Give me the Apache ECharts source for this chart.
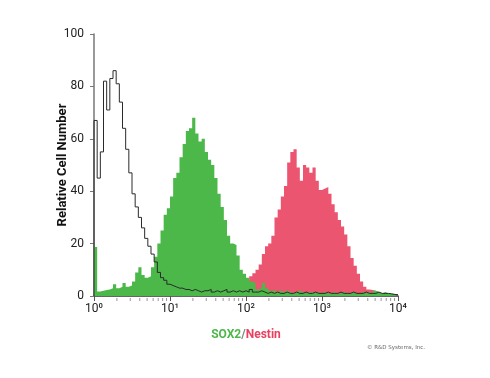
<!DOCTYPE html>
<html><head><meta charset="utf-8">
<script src="https://cdn.jsdelivr.net/npm/echarts@6/dist/echarts.min.js"></script>
<style>html,body{margin:0;padding:0;background:#fff}#c{width:490px;height:378px}</style>
</head><body><div id="c"></div>
<script>
// histogram: 24 channels per decade, from 10^0 to 10^4
const binsPerDecade = 24;
const xTickLabels = ['10\u2070','10\u00b9','10\u00b2','10\u00b3','10\u2074'];
const yTicks = [0,20,40,60,80,100];

const control = [67,45,55,82,71,83,86,81,74,64,56,47,39,34,30,26,22,19,16,13,9,7,6,4.5,4,3.5,3,3,2.5,2.5,2,2.5,2,1.5,2,2,2.5,1.5,2,1.5,2,2.5,1.5,2,1.5,2,1.5,2,1.5,2.5,1.5,1.5,2,1.5,1,1.5,1,1.5,1,1,1.5,1,1,1.5,1,1,1.5,1,1,1.5,1,1,1,1.5,1,1,1,1.5,1,1,1,1.5,1,1,1,1.5,1,1,1,1.5,1,1,1,0.8,0.6,0.5];

const sox2 = [18.7,1.7,2,2.3,2.5,3,4.5,3,3.5,5,3.5,4,5.5,9,11,8,7,7.5,11,15,20,25,31,33.5,38,45,47,53,58,63,64,68,62,59,60,55,52,50,45,39,34,29,23,20,19.5,15.5,10,8.5,7,5.5,5,2.5,3,5,3,2,2,1.5,2,1.5,2,1.5,1,1.5,2,1.5,1,1.5,1.5,1,1.5,1,1.5,1,1,1.5,1,1,1.5,1,1,1.5,1,1,1.5,1,1.5,1,2,1.5,1,1.5,1,1,0.8,0.5];

const nestin = [0,0,0,0,0,0,0,0,0,0,0,0,0,0,0,0,0,0,0,0,0,0,0,0,0,0,0,0,0,0,0,0,0,0,0,0,0,0,0,0,0,0,0,0,3,4,4.5,5,6,7.5,8.7,10,12,16,19,20,23,30,33,38,42,51,55,56,49,44,50,49,47,49,44,40.5,41,41.6,39,35,32,29,26.5,23.5,19,14.5,11.5,8.5,5.5,3.5,2.5,2.3,2,1.5,1,0.5,0,0,0,0];

function stepData(vals, lead) {
  const d = vals.map((v, i) => [Math.pow(10, i / binsPerDecade), v]);
  d.push([Math.pow(10, vals.length / binsPerDecade), vals[vals.length - 1]]);
  if (lead) d.unshift([1, 0]);
  return d;
}
const minorTicks = [];
for (let k = 0; k < 4; k++) for (let m = 2; m <= 9; m++) minorTicks.push([m * Math.pow(10, k), 0]);

const FONT = "Roboto,'Liberation Sans',sans-serif";
const chart = echarts.init(document.getElementById('c'));
chart.setOption({
  animation: false,
  grid: {left: 94, right: 92, top: 34, bottom: 82},
  xAxis: {
    type: 'log', logBase: 10, min: 1, max: 10000,
    axisLine: {lineStyle: {color: '#333', width: 1.5}},
    axisTick: {show: true, length: 5, lineStyle: {color: '#555'}},
    splitLine: {show: false},
    axisLabel: {
      fontFamily: FONT, fontSize: 12, color: '#222', margin: 7,
      formatter: v => xTickLabels[Math.round(Math.log10(v))]
    },
    name: '{g|SOX2}{s|/}{r|Nestin}',
    nameLocation: 'middle', nameGap: 33, nameMoveOverlap: false,
    nameTextStyle: {
      rich: {
        g: {color: '#4cb84a', fontFamily: FONT, fontSize: 12, fontWeight: 'bold'},
        s: {color: '#888', fontFamily: FONT, fontSize: 12, fontWeight: 'bold'},
        r: {color: '#e8405e', fontFamily: FONT, fontSize: 12, fontWeight: 'bold'}
      }
    }
  },
  yAxis: {
    type: 'value', min: 0, max: 100, interval: 20,
    axisLine: {show: true, lineStyle: {color: '#777', width: 1.5}},
    axisTick: {show: true, length: 4, lineStyle: {color: '#777'}},
    splitLine: {show: false},
    axisLabel: {fontFamily: FONT, fontSize: 12, color: '#222', margin: 10,
      formatter: v => yTicks.includes(v) ? String(v) : ''},
    name: 'Relative Cell Number', nameLocation: 'middle', nameGap: 25, nameMoveOverlap: false,
    nameTextStyle: {fontFamily: FONT, fontSize: 13, fontWeight: 'bold', color: '#111'}
  },
  series: [
    {type: 'line', step: 'end', data: stepData(nestin), symbol: 'none',
     lineStyle: {width: 0}, areaStyle: {color: '#ec5570', opacity: 1}},
    {type: 'line', step: 'end', data: stepData(sox2), symbol: 'none',
     lineStyle: {width: 0}, areaStyle: {color: '#4cb84a', opacity: 1}},
    {type: 'line', step: 'end', data: stepData(control, true), symbol: 'none',
     lineStyle: {width: 1, color: '#2a2a2a'}},
    {type: 'custom', data: minorTicks, clip: false, silent: true,
     renderItem: (params, api) => {
       const p = api.coord([api.value(0), 0]);
       return {type: 'line', shape: {x1: p[0], y1: p[1] + 2, x2: p[0], y2: p[1] + 5},
               style: {stroke: '#999', lineWidth: 1}};
     }}
  ],
  graphic: [{type: 'text', left: 367, top: 345,
    style: {text: '\u00a9 R&D Systems, Inc.', font: "5.5px 'DejaVu Sans',sans-serif", fill: '#666'}}]
});
</script></body></html>
